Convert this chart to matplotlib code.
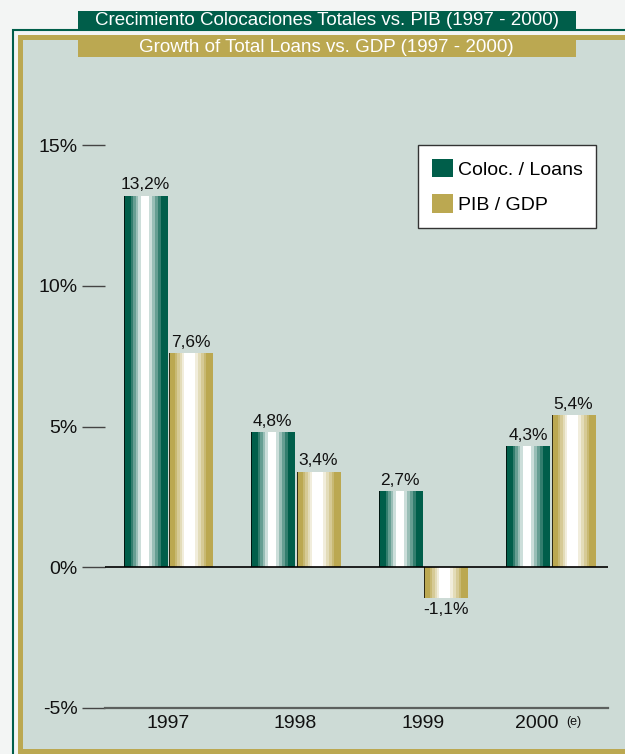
import numpy as np
import matplotlib
matplotlib.use('Agg')
from matplotlib import pyplot as plt
from matplotlib.patches import Rectangle, Patch
from matplotlib.colors import to_rgb
from matplotlib.transforms import ScaledTranslation

plt.rcParams['font.family'] = ['Liberation Sans', 'DejaVu Sans']

# datos
years = ['1997', '1998', '1999', '2000']
loans = [13.2, 4.8, 2.7, 4.3]
gdp = [7.6, 3.4, -1.1, 5.4]
yticks = [-5, 0, 5, 10, 15]
ytick_labels = ['-5%', '0%', '5%', '10%', '15%']
series_names = ['Coloc. / Loans', 'PIB / GDP']
title_es = 'Crecimiento Colocaciones Totales vs. PIB (1997 - 2000)'
title_en = 'Growth of Total Loans vs. GDP (1997 - 2000)'

GREEN = '#005e4a'
GOLD = '#bba851'
BG = '#cddbd6'
PAGE = '#f3f5f4'

W, H = 625, 754
fig = plt.figure(figsize=(W / 100, H / 100), dpi=100, facecolor=PAGE)


def fr(x, y):
    # pixel -> fraccion de figura
    return x / W, 1 - y / H


def box(x0, y0, x1, y1, **kw):
    r = Rectangle(fr(x0, y1), (x1 - x0) / W, (y1 - y0) / H,
                  transform=fig.transFigure, **kw)
    fig.add_artist(r)
    return r


# marco
box(13, 30, 660, 800, fill=False, ec=GREEN, lw=1.5, zorder=-3)
box(19.5, 36.5, 660, 750.5, fc=BG, ec=GOLD, lw=3.6, zorder=-2)

# titulos
box(78, 11, 576, 30, fc=GREEN, ec='none', zorder=1)
box(78, 38, 576, 57, fc=GOLD, ec='none', zorder=1)
fig.text(*fr(327, 20.5), title_es, color='white', fontsize=13.5, ha='center', va='center', zorder=2)
fig.text(*fr(326, 47.5), title_en, color='white', fontsize=13.5, ha='center', va='center', zorder=2)

ax = fig.add_axes([105 / W, 1 - 708 / H, (608 - 105) / W, (708 - 145) / H])
ax.set_facecolor('none')
for s in ax.spines.values():
    s.set_visible(False)


def shade(base, lo, hi, n=44):
    t = (np.arange(n) + 0.5) / n
    w = np.interp(t, [0, 0.12, lo, hi, 0.88, 1], [0, 0, 1, 1, 0, 0])
    w = np.round(w * 5) / 5
    c = np.array(to_rgb(base))
    rgb = c[None, :] * (1 - w[:, None]) + w[:, None]
    rgb[0] = c * 0.25
    return rgb[None, :, :]


x = np.arange(len(years))
bw = 0.34
off = 0.178

for vals, col, lo, hi, dx in [(loans, GREEN, 0.41, 0.53, -off), (gdp, GOLD, 0.36, 0.57, off)]:
    bars = ax.bar(x + dx, vals, width=bw, color='none', zorder=2)
    img = shade(col, lo, hi)
    for b, v in zip(bars, vals):
        bx, by = b.get_x(), b.get_y()
        im = ax.imshow(img, extent=[bx, bx + b.get_width(), by, by + b.get_height()],
                       aspect='auto', interpolation='nearest', zorder=2)
        im.set_clip_path(b)
        lab = f'{v:.1f}%'.replace('.', ',')
        ax.annotate(lab, (bx + b.get_width() / 2, v), xytext=(0, 2.5 if v >= 0 else -3),
                    textcoords='offset points', ha='center',
                    va='bottom' if v >= 0 else 'top', fontsize=12.5, color='#111')

ax.axhline(0, color='black', lw=1.2, zorder=3)
ax.axhline(-5, color='#5c605e', lw=1.6, zorder=3, clip_on=False)

ax.set_xlim(-0.494, 3.45)
ax.set_ylim(-5, 15)
ax.set_yticks(yticks, ytick_labels)
ax.set_xticks(x, years)
ax.tick_params(axis='y', length=16.5, width=1, color='#444', pad=3, labelsize=14, labelcolor='#111')
ax.tick_params(axis='x', length=0, pad=5, labelsize=14, labelcolor='#111')

# 2000 (e)
lbl = ax.get_xticklabels()[-1]
lbl.set_transform(lbl.get_transform() + ScaledTranslation(-0.14, 0, fig.dpi_scale_trans))
fig.text(*fr(566, 722), '(e)', fontsize=9, va='center', ha='left', color='#111')

handles = [Patch(fc=GREEN), Patch(fc=GOLD)]
leg = ax.legend(handles, series_names, loc='upper left', bbox_to_anchor=fr(418, 145),
                bbox_transform=fig.transFigure, frameon=True, fancybox=False,
                edgecolor='#333333', framealpha=1, fontsize=14, handlelength=1.1,
                handleheight=1.1, handletextpad=0.25, labelspacing=0.8,
                borderpad=0.7, borderaxespad=0)
leg.get_frame().set_linewidth(1)

plt.savefig('out.png', dpi=100, facecolor=PAGE)
